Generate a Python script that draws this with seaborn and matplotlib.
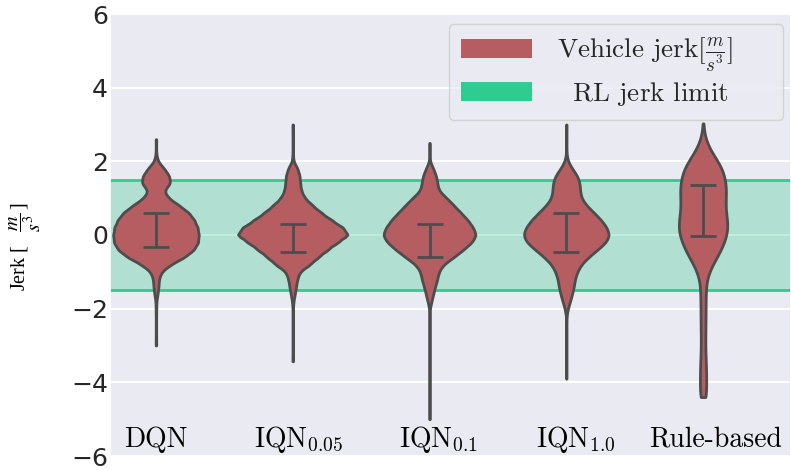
import numpy as np
import pandas as pd
import matplotlib
matplotlib.use("Agg")
import matplotlib.pyplot as plt
import matplotlib.patches as mpatches
import seaborn as sns

# ---------------- data ----------------
methods = ["DQN", "IQN0.05", "IQN0.1", "IQN1.0", "Rule-based"]
method_labels = ["DQN", r"IQN$_{0.05}$", r"IQN$_{0.1}$", r"IQN$_{1.0}$", "Rule-based"]

# jerk levels (m/s^3) and how many observations fall at each level
jerk_levels = [-5.0, -4.8, -4.6, -4.4, -4.2, -4.0, -3.8, -3.6, -3.4, -3.2,
               -3.0, -2.8, -2.6, -2.4, -2.2, -2.0, -1.8, -1.6, -1.4, -1.2,
               -1.0, -0.8, -0.6, -0.4, -0.2, 0.0, 0.2, 0.4, 0.6, 0.8,
               1.0, 1.2, 1.4, 1.6, 1.8, 2.0, 2.2, 2.4, 2.6, 2.8, 3.0]

dqn_counts = [0, 0, 0, 0, 0, 0, 0, 0, 0, 0,
              2, 2, 2, 2, 2, 3, 4, 15, 24, 27,
              50, 137, 267, 354, 392, 397, 387, 357, 307, 217,
              117, 70, 135, 125, 77, 17, 3, 2, 2, 0, 0]
iqn005_counts = [0, 0, 0, 0, 0, 0, 0, 0, 2, 2,
                 2, 2, 2, 2, 2, 2, 7, 20, 32, 44,
                 67, 167, 247, 337, 432, 542, 487, 377, 277, 192,
                 117, 82, 72, 67, 47, 7, 2, 2, 2, 2, 2]
iqn01_counts = [2, 2, 2, 2, 2, 2, 2, 2, 2, 2,
                2, 2, 2, 2, 2, 2, 17, 32, 47, 67,
                77, 117, 207, 287, 360, 400, 370, 327, 267, 207,
                147, 77, 67, 57, 32, 2, 2, 2, 0, 0, 0]
iqn10_counts = [0, 0, 0, 0, 0, 0, 2, 2, 2, 2,
                2, 2, 2, 2, 2, 14, 35, 54, 70, 79,
                100, 137, 204, 287, 367, 400, 374, 324, 257, 187,
                137, 127, 124, 104, 54, 14, 2, 2, 2, 2, 2]
rule_counts = [0, 0, 0, 30, 26, 27, 27, 26, 23, 20,
               19, 19, 20, 21, 21, 22, 22, 23, 24, 30,
               50, 80, 120, 154, 180, 204, 214, 207, 194, 187,
               195, 197, 195, 184, 164, 130, 80, 45, 20, 6, 2]

# observed extremes (whisker ends of each violin)
jerk_min = [-3.0, -3.43, -4.96, -3.9, -4.38]
jerk_max = [2.6, 3.0, 2.5, 3.0, 3.03]

# inner bars (lower / upper quartile)
q_low = [-0.32, -0.47, -0.60, -0.47, -0.02]
q_high = [0.59, 0.29, 0.29, 0.60, 1.35]

# RL jerk limit
jerk_limit = 1.5

yticks = [-6, -4, -2, 0, 2, 4, 6]

# ---------------- build table ----------------
all_counts = [dqn_counts, iqn005_counts, iqn01_counts, iqn10_counts, rule_counts]
frames = []
for name, cnt, lo, hi in zip(methods, all_counts, jerk_min, jerk_max):
    vals = np.concatenate([np.repeat(jerk_levels, cnt), [lo, hi]])
    frames.append(pd.DataFrame({"method": name, "jerk": vals}))
df = pd.concat(frames, ignore_index=True)

# ---------------- style ----------------
sns.set_theme(style="darkgrid")
plt.rcParams["mathtext.fontset"] = "cm"
plt.rcParams["font.family"] = ["DejaVu Sans"]
plt.rcParams["axes.unicode_minus"] = True

base_red = "#C44E52"
violin_color = sns.desaturate(base_red, 0.75)
green = "#2ecc8e"
line_color = "#4d4d4d"

fig = plt.figure(figsize=(7.91, 4.70), dpi=100)
ax = fig.add_axes([110 / 791, 14 / 470, 681 / 791, 442 / 470])

ax.axhspan(-jerk_limit, jerk_limit, color=green, alpha=0.3, lw=0, zorder=1)
ax.axhline(jerk_limit, color=green, lw=2.0, zorder=1.2)
ax.axhline(-jerk_limit, color=green, lw=2.0, zorder=1.2)

sns.violinplot(data=df, x="method", y="jerk", order=methods, color=base_red,
               inner=None, cut=0, bw_method=0.15, density_norm="area",
               width=0.8, linewidth=2.0, linecolor=line_color, ax=ax)
for c in ax.collections:
    c.set_zorder(3)

pos = np.arange(len(methods))
lo = np.array(q_low)
hi = np.array(q_high)
ax.errorbar(pos, (lo + hi) / 2, yerr=(hi - lo) / 2, fmt="none",
            ecolor=line_color, elinewidth=2.0, capsize=9.5, capthick=2.0,
            zorder=4)

ax.set_xlim(-0.336, 4.643)
ax.set_ylim(-6, 6)
ax.set_yticks(yticks)
ax.tick_params(axis="y", labelsize=18, length=0, pad=1.5)
ax.tick_params(axis="x", labelbottom=False, length=0)
ax.set_xlabel("")
ax.grid(axis="y", color="white", lw=1.5)
ax.grid(axis="x", visible=False)

label_shift = [0.0, 0.042, 0.062, 0.071, 0.088]
for i, (lab, dx) in enumerate(zip(method_labels, label_shift)):
    ax.text(i + dx, -5.75, lab, ha="center", va="baseline", fontsize=20,
            family="cmr10", color="black", zorder=5)

ax.set_ylabel(r"Jerk [$\quad\dfrac{m}{s^3}\,$]", fontsize=14.5,
              family="Liberation Serif", math_fontfamily="stix", color="black",
              va="center")
ax.yaxis.set_label_coords((25 - 110) / 681, 0.474)

handles = [
    mpatches.Patch(facecolor=violin_color, edgecolor="none",
                   label=r"Vehicle jerk$[\frac{m}{s^3}]$"),
    mpatches.Patch(facecolor=green, edgecolor="none",
                   label=r"$\ \ $RL jerk limit"),
]
x0 = (449 - 110) / 681
x1 = (783 - 110) / 681
y1 = (456 - 24) / 442
y0 = (456 - 113) / 442
leg = ax.legend(handles=handles, loc="upper right", mode="expand",
                bbox_to_anchor=(x0, y0, x1 - x0, y1 - y0),
                prop={"family": "cmr10", "size": 19.5},
                handlelength=2.6, handleheight=0.7, handletextpad=0.95,
                borderpad=0.45, labelspacing=0.2, borderaxespad=0.0,
                frameon=True, fancybox=True)

fig.savefig("out.png", dpi=100)
